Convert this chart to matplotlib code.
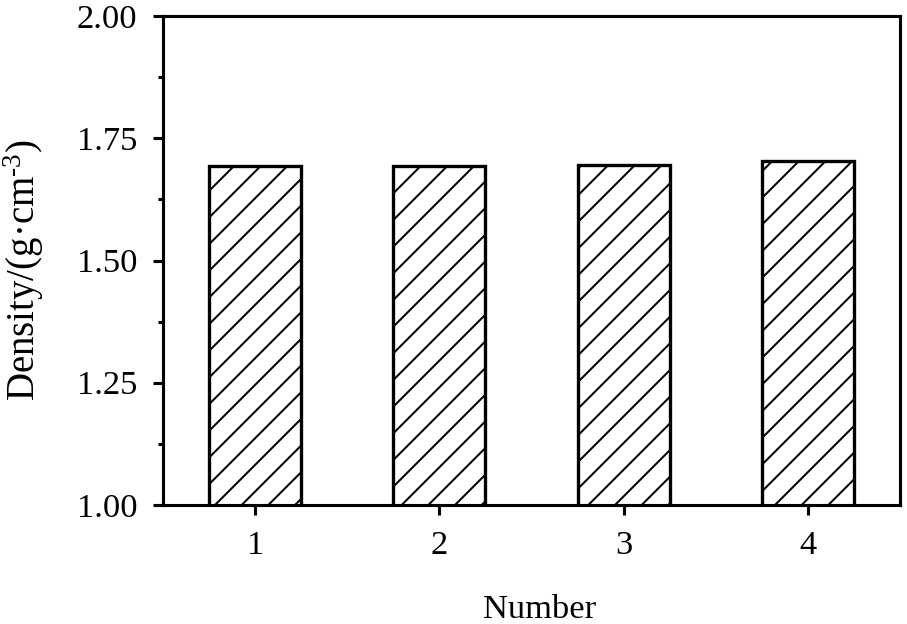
import matplotlib
matplotlib.use("Agg")
import matplotlib.pyplot as plt
from matplotlib.ticker import MultipleLocator

numbers = [1, 2, 3, 4]
density = [1.693, 1.693, 1.696, 1.703]
tick_labels = ["1", "2", "3", "4"]

plt.rcParams['font.family'] = ['Liberation Serif', 'DejaVu Serif']
plt.rcParams['mathtext.fontset'] = 'custom'
plt.rcParams['mathtext.rm'] = 'Liberation Serif'
plt.rcParams['mathtext.it'] = 'Liberation Serif:italic'
plt.rcParams['hatch.linewidth'] = 0.9

fig = plt.figure(figsize=(907 / 160, 624 / 160), dpi=160)
ax = fig.add_axes([163 / 907, 1 - 505 / 624, (900 - 163) / 907, (505 - 16) / 624])

# hatch '//' at 160 dpi gives ~27 px spacing like the original
ax.bar(numbers, density, width=0.5, color='white', edgecolor='black',
       linewidth=1.5, hatch='//')

ax.set_xlim(0.5, 4.5)
ax.set_ylim(1.0, 2.0)
ax.set_xticks(numbers)
ax.set_xticklabels(tick_labels)
ax.set_yticks([1.0, 1.25, 1.5, 1.75, 2.0])
ax.set_yticklabels(["1.00", "1.25", "1.50", "1.75", "2.00"])
ax.yaxis.set_minor_locator(MultipleLocator(0.125))

for s in ax.spines.values():
    s.set_linewidth(1.4)
ax.tick_params(axis='both', which='major', direction='out', length=4.5,
               width=1.4, labelsize=15.5, pad=7)
ax.tick_params(axis='y', which='minor', direction='out', length=2.2, width=1.4)
ax.tick_params(top=False, right=False)

ax.set_xlabel('Number', fontsize=15.5, labelpad=15)
ax.xaxis.label.set_x(0.511)
ax.set_ylabel(r'Density/(g·cm$^{\text{-}3}$)', fontsize=17.5, labelpad=14)
ax.yaxis.label.set_y(0.48)

fig.savefig("out.png", dpi=160)
